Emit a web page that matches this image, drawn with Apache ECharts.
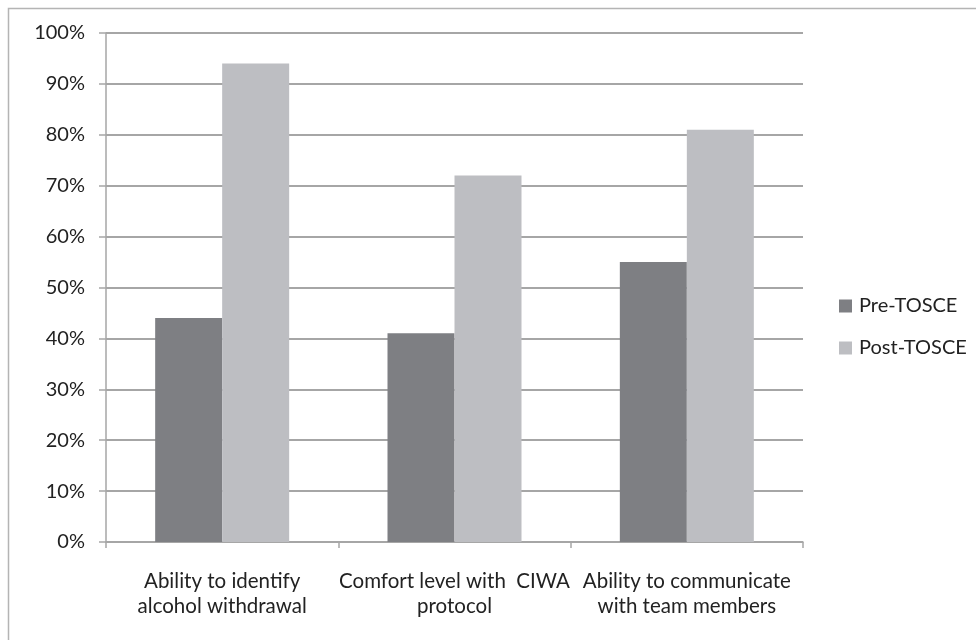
<!DOCTYPE html>
<html><head><meta charset="utf-8">
<script src="https://cdn.jsdelivr.net/npm/echarts@6/dist/echarts.min.js"></script>
<style>html,body{margin:0;padding:0;background:#fff}#c{width:976px;height:640px}</style>
</head><body><div id="c"></div>
<script>
const categories = ["Ability to identify\nalcohol withdrawal", "Comfort level with  CIWA\nprotocol", "Ability to communicate\nwith team members"];
const preTOSCE = [44, 41, 55];
const postTOSCE = [94, 72, 81];
const seriesNames = ["Pre-TOSCE", "Post-TOSCE"];
const yTicks = [0, 10, 20, 30, 40, 50, 60, 70, 80, 90, 100];

const chart = echarts.init(document.getElementById('c'), null, {renderer: 'canvas'});
const FONT = 'Lato';
const lineColor = '#a6a6a6';
chart.setOption({
  animation: false,
  backgroundColor: '#fff',
  graphic: [{
    type: 'rect', shape: {x: 8.5, y: 8.5, width: 1000, height: 700},
    style: {fill: 'none', stroke: '#b4b4b4', lineWidth: 1.5}, silent: true
  }],
  grid: {left: 106, right: 173, top: 33, bottom: 98, containLabel: false},
  legend: {
    orient: 'vertical', left: 839, top: 296, padding: 0, itemWidth: 13, itemHeight: 13, itemGap: 22,
    icon: 'rect',
    textStyle: {fontFamily: FONT, fontSize: 20, color: '#222', padding: [0, 0, 0, 2]},
    data: seriesNames
  },
  xAxis: {
    type: 'category', data: categories,
    axisLine: {show: true, lineStyle: {color: lineColor, width: 1.5}},
    axisTick: {show: true, length: 6, lineStyle: {color: lineColor, width: 1.5}},
    axisLabel: {fontFamily: FONT, fontSize: 20.5, color: '#222', margin: 27, lineHeight: 25, interval: 0}
  },
  yAxis: {
    type: 'value', min: yTicks[0], max: yTicks[yTicks.length - 1], interval: 10,
    axisLine: {show: true, lineStyle: {color: lineColor, width: 1.5}},
    axisTick: {show: true, length: 7, lineStyle: {color: lineColor, width: 1.5}},
    splitLine: {show: true, lineStyle: {color: lineColor, width: 2}},
    axisLabel: {fontFamily: FONT, fontSize: 20, color: '#222', margin: 21, formatter: v => v + '%'}
  },
  series: [
    {name: seriesNames[0], type: 'bar', data: preTOSCE, barWidth: 67, barGap: '0%',
     itemStyle: {color: '#7e7f83'}},
    {name: seriesNames[1], type: 'bar', data: postTOSCE, barWidth: 67, barGap: '0%',
     itemStyle: {color: '#bdbec2'}}
  ]
});
</script></body></html>
